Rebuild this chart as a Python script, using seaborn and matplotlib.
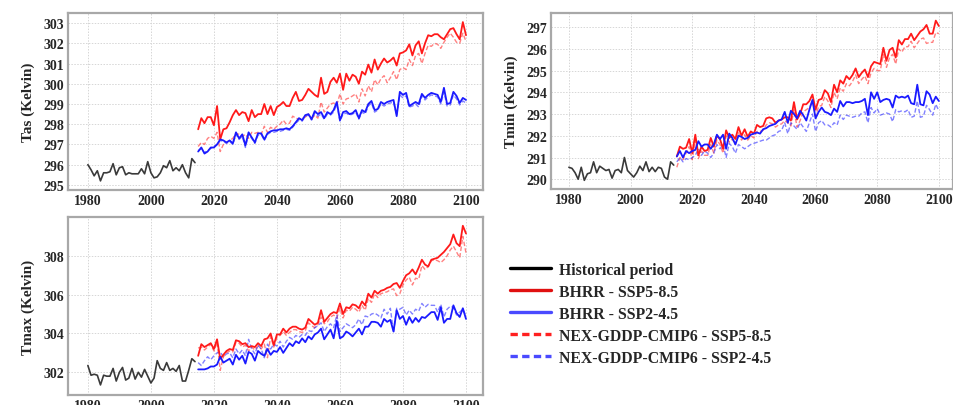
import numpy as np
import pandas as pd
import matplotlib
matplotlib.use("Agg")
import matplotlib.pyplot as plt
from matplotlib.lines import Line2D
import seaborn as sns

# ---------------------------------------------------------------- data
years_hist = list(range(1980, 2015))
years_fut = list(range(2015, 2101))

tas_hist = [296.0, 295.75, 295.45, 295.7, 295.2, 295.6, 295.6, 295.65, 296.05, 295.5,
            295.85, 295.9, 295.5, 295.6, 295.55, 295.55, 295.55, 295.8, 295.55, 296.15,
            295.6, 295.35, 295.4, 295.6, 295.95, 295.85, 296.2, 295.7, 295.85, 295.7,
            296.0, 295.6, 295.35, 296.3, 296.1]
tas_bhrr_585 = [297.75, 298.3, 298.05, 298.35, 298.35, 297.95, 298.9, 297.25, 297.75, 297.8,
                298.1, 298.45, 298.7, 298.45, 298.6, 298.55, 298.15, 298.7, 298.35, 298.5,
                298.5, 299.0, 298.5, 298.9, 298.45, 298.85, 298.95, 299.1, 298.9, 298.9,
                299.3, 299.6, 299.15, 299.2, 299.45, 299.75, 299.6, 299.45, 299.35, 300.3,
                299.5, 299.6, 300.1, 300.3, 300.05, 300.5, 299.7, 300.5, 300.15, 300.45,
                300.35, 300.0, 300.6, 300.45, 300.95, 300.55, 301.2, 300.7, 301.0, 301.25,
                301.05, 301.15, 301.3, 300.9, 301.5, 301.55, 301.65, 301.95, 301.4, 301.9,
                302.1, 301.5, 302.0, 302.4, 302.35, 302.45, 302.45, 302.3, 302.2, 302.45,
                302.7, 302.75, 302.45, 302.2, 303.05, 302.4]
tas_nex_585 = [296.9, 297.1, 297.0, 297.3, 297.4, 297.3, 297.6, 296.65, 297.0, 297.1,
               297.2, 297.3, 297.55, 297.5, 297.4, 297.5, 297.3, 297.6, 297.55, 297.6,
               297.5, 297.9, 297.6, 297.85, 297.75, 297.9, 298.0, 298.2, 298.0, 298.05,
               298.4, 298.3, 298.25, 298.3, 298.35, 298.5, 298.25, 298.45, 298.3, 299.1,
               298.6, 298.8, 299.0, 299.05, 298.95, 299.5, 299.0, 299.25, 299.3, 299.4,
               299.5, 299.1, 299.75, 299.4, 299.9, 299.6, 300.2, 299.95, 300.25, 300.4,
               300.05, 300.3, 300.6, 300.2, 300.7, 300.8, 300.7, 301.2, 300.9, 301.4,
               301.5, 301.0, 301.5, 301.9, 301.85, 302.0, 301.95, 301.75, 302.05, 302.3,
               302.5, 302.3, 302.05, 302.0, 302.5, 302.1]
tas_bhrr_245 = [296.65, 296.85, 296.55, 296.65, 296.85, 296.85, 297.0, 297.25, 297.2, 297.1,
                297.2, 297.05, 297.6, 297.3, 297.5, 296.95, 297.6, 297.35, 297.1, 297.55,
                297.55, 297.25, 297.55, 297.65, 297.7, 297.7, 297.75, 297.75, 297.8, 297.75,
                297.9, 298.1, 298.3, 298.2, 298.45, 298.5, 298.25, 298.65, 298.5, 298.6,
                298.3, 298.6, 298.5, 298.7, 299.1, 298.2, 298.6, 298.65, 298.5, 298.55,
                298.7, 298.3, 298.7, 298.6, 299.0, 299.15, 298.7, 298.75, 299.1, 299.0,
                299.1, 299.15, 299.2, 298.4, 299.6, 299.45, 299.55, 298.9, 299.0, 299.1,
                299.0, 299.5, 299.3, 299.45, 299.55, 299.5, 299.45, 299.1, 299.8, 299.0,
                299.05, 299.6, 299.4, 299.05, 299.3, 299.2]
tas_nex_245 = [296.7, 296.8, 296.6, 296.7, 296.8, 296.9, 297.0, 297.2, 297.15, 297.05,
               297.15, 297.0, 297.5, 297.25, 297.4, 296.85, 297.5, 297.3, 297.05, 297.45,
               297.5, 297.2, 297.5, 297.6, 297.6, 297.65, 297.65, 297.7, 297.75, 297.7,
               297.85, 298.05, 298.2, 298.15, 298.4, 298.45, 298.2, 298.55, 298.4, 298.5,
               298.25, 298.5, 298.45, 298.6, 299.0, 298.15, 298.5, 298.55, 298.45, 298.5,
               298.6, 298.25, 298.6, 298.5, 298.9, 299.05, 298.6, 298.7, 299.0, 298.9,
               299.0, 299.05, 299.1, 298.45, 299.45, 299.3, 299.4, 298.85, 298.9, 299.0,
               298.85, 299.4, 299.2, 299.35, 299.45, 299.4, 299.35, 299.0, 299.6, 298.9,
               298.95, 299.45, 299.25, 298.95, 299.15, 299.05]

tmin_hist = [290.55, 290.5, 290.3, 290.0, 290.55, 289.95, 290.25, 290.3, 290.8, 290.3,
             290.6, 290.5, 290.4, 290.45, 290.05, 290.4, 290.45, 290.3, 291.0, 290.4,
             290.25, 290.1, 290.3, 290.6, 290.4, 290.8, 290.35, 290.55, 290.35, 290.55,
             290.5, 290.1, 290.0, 290.8, 290.65]
tmin_bhrr_585 = [291.05, 291.5, 291.4, 291.45, 291.85, 291.2, 292.05, 291.1, 291.5, 291.3,
                 291.35, 291.9, 291.5, 292.0, 291.85, 291.4, 292.25, 291.9, 292.05, 291.85,
                 292.4, 292.0, 292.3, 291.95, 292.2, 292.1, 292.5, 292.4, 292.45, 292.8,
                 292.85, 292.8, 292.6, 292.7, 292.75, 292.85, 292.85, 292.7, 293.55, 292.75,
                 293.0, 293.45, 293.45, 293.6, 293.9, 293.2, 293.65, 293.7, 294.1, 293.95,
                 293.55, 294.35, 294.0, 294.55, 294.4, 294.75, 294.6, 294.8, 295.1, 294.7,
                 294.9, 295.05, 294.7, 295.2, 295.4, 295.35, 295.3, 296.05, 295.45, 295.95,
                 296.05, 295.6, 296.4, 296.2, 296.45, 296.45, 296.7, 296.4, 296.6, 296.8,
                 296.9, 297.1, 296.7, 296.7, 297.3, 297.05]
tmin_nex_585 = [290.55, 291.0, 290.9, 291.2, 291.5, 290.9, 291.8, 290.95, 291.3, 291.1,
                291.1, 291.6, 291.2, 291.8, 291.6, 291.2, 292.0, 291.7, 291.85, 291.6,
                292.15, 291.8, 292.05, 291.8, 292.0, 291.9, 292.2, 292.2, 292.25, 292.5,
                292.6, 292.55, 292.4, 292.5, 292.55, 292.7, 292.6, 292.45, 293.2, 292.4,
                292.7, 293.1, 293.2, 293.3, 293.6, 292.9, 293.35, 293.4, 293.8, 293.6,
                293.3, 294.0, 293.7, 294.2, 294.05, 294.4, 294.3, 294.5, 294.8, 294.4,
                294.6, 294.75, 294.4, 294.9, 295.1, 295.0, 295.0, 295.75, 295.15, 295.6,
                295.75, 295.3, 296.0, 295.85, 296.1, 296.1, 296.35, 296.05, 296.25, 296.45,
                296.5, 296.25, 296.3, 296.3, 296.75, 296.7]
tmin_bhrr_245 = [291.05, 291.3, 291.0, 291.3, 291.2, 291.3, 291.35, 291.75, 291.5, 291.6,
                 291.6, 291.4, 291.6, 292.05, 291.85, 292.05, 291.4, 292.1, 291.9, 291.6,
                 292.0, 291.95, 291.85, 291.9, 292.05, 292.1, 292.15, 292.1, 292.3, 292.35,
                 292.45, 292.5, 292.55, 292.7, 292.75, 293.1, 292.6, 293.15, 293.0, 292.8,
                 293.15, 292.95, 292.7, 293.2, 293.65, 292.8, 293.1, 293.3, 293.1, 293.05,
                 292.95, 293.25, 293.1, 293.6, 293.35, 293.55, 293.55, 293.5, 293.55, 293.55,
                 293.6, 293.7, 292.95, 294.0, 293.7, 294.0, 293.55, 293.65, 293.7, 293.65,
                 293.3, 293.85, 293.75, 293.8, 293.75, 293.85, 293.5, 293.45, 294.35, 293.45,
                 293.4, 294.05, 293.9, 293.5, 293.8, 293.6]
tmin_nex_245 = [290.8, 291.0, 290.8, 290.95, 290.9, 291.0, 291.1, 291.4, 291.1, 291.3,
                291.2, 291.0, 291.2, 291.6, 291.4, 291.6, 291.0, 291.65, 291.5, 291.2,
                291.6, 291.5, 291.4, 291.5, 291.6, 291.65, 291.7, 291.75, 291.8, 291.8,
                291.9, 292.0, 292.05, 292.2, 292.25, 292.6, 292.1, 292.6, 292.45, 292.3,
                292.6, 292.4, 292.2, 292.6, 293.0, 292.2, 292.6, 292.7, 292.5, 292.5,
                292.4, 292.6, 292.5, 292.95, 292.75, 292.95, 292.9, 292.85, 292.9, 292.9,
                293.05, 293.1, 292.6, 293.3, 293.05, 293.25, 292.95, 293.0, 293.05, 293.0,
                292.65, 293.2, 293.1, 293.15, 293.1, 293.2, 292.85, 292.9, 293.6, 292.85,
                292.9, 293.4, 293.2, 292.95, 293.45, 293.15]

tmax_hist = [302.35, 301.85, 301.9, 301.85, 301.35, 301.85, 301.8, 301.8, 302.2, 301.55,
             302.0, 302.25, 301.6, 301.7, 302.2, 301.65, 302.0, 301.75, 302.15, 301.8,
             301.45, 301.7, 302.6, 302.2, 302.1, 302.5, 302.1, 302.2, 302.05, 302.35,
             301.55, 301.55, 302.1, 302.7, 302.55]
tmax_bhrr_585 = [302.85, 303.45, 303.3, 303.4, 303.5, 303.2, 303.7, 302.7, 302.9, 303.1,
                 303.2, 303.15, 303.65, 303.6, 303.45, 303.5, 303.3, 303.35, 303.3, 303.5,
                 303.35, 303.7, 303.75, 304.0, 303.4, 303.95, 303.95, 304.25, 304.05, 304.25,
                 304.35, 304.35, 304.25, 304.2, 304.3, 304.75, 304.6, 304.45, 304.55, 305.2,
                 304.6, 304.8, 305.0, 305.1, 305.05, 305.55, 305.0, 305.35, 305.3, 305.5,
                 305.45, 305.3, 305.65, 305.45, 306.05, 305.85, 306.2, 306.05, 306.2, 306.25,
                 306.35, 306.4, 306.55, 306.6, 306.35, 306.7, 307.0, 307.1, 307.3, 307.05,
                 307.4, 307.8, 307.55, 307.45, 307.8, 307.85, 307.9, 308.05, 308.2, 308.4,
                 308.6, 309.1, 308.65, 308.5, 309.55, 309.15]
tmax_nex_585 = [303.25, 303.3, 303.15, 303.3, 303.45, 303.1, 303.55, 302.1, 302.8, 303.0,
                303.1, 303.05, 303.55, 303.5, 303.3, 303.4, 303.1, 303.3, 303.15, 303.35,
                303.2, 303.45, 302.75, 303.85, 303.3, 303.8, 303.9, 304.1, 303.9, 304.05,
                304.2, 304.2, 304.1, 304.05, 304.15, 304.55, 304.4, 304.3, 304.45, 304.85,
                304.5, 304.6, 304.85, 304.95, 304.8, 305.3, 304.8, 305.2, 305.15, 305.35,
                305.25, 305.1, 305.45, 305.2, 305.8, 305.6, 306.05, 305.85, 306.05, 306.1,
                306.15, 306.25, 306.3, 305.95, 306.05, 306.5, 306.75, 306.9, 306.5, 306.85,
                306.8, 307.5, 307.3, 307.45, 307.75, 307.8, 307.75, 307.65, 307.8, 308.0,
                308.3, 308.5, 308.2, 307.9, 309.0, 308.15]
tmax_bhrr_245 = [302.15, 302.15, 302.15, 302.2, 302.3, 302.3, 302.4, 302.8, 302.5, 302.6,
                 302.7, 302.4, 302.9, 302.65, 302.85, 302.45, 303.05, 302.95, 302.6, 303.1,
                 302.95, 302.85, 303.2, 302.9, 303.1, 303.05, 303.3, 303.0, 303.25, 303.5,
                 303.35, 303.6, 303.5, 303.75, 303.55, 303.85, 303.7, 303.95, 304.05, 304.25,
                 303.7, 303.95, 304.2, 303.75, 304.65, 303.75, 303.85, 304.1, 304.0, 303.85,
                 304.05, 304.25, 303.95, 304.35, 304.35, 304.6, 304.6, 304.55, 304.35, 304.75,
                 304.6, 304.7, 304.1, 305.2, 304.75, 304.9, 304.45, 304.85, 304.55, 304.8,
                 304.6, 304.85, 304.8, 304.95, 305.1, 305.1, 304.7, 305.35, 304.55, 304.75,
                 304.75, 305.45, 305.05, 304.85, 305.3, 304.75]
tmax_nex_245 = [302.5, 302.35, 302.6, 302.8, 302.65, 302.85, 303.0, 303.05, 302.8, 302.95,
                303.0, 302.75, 303.2, 302.95, 303.15, 302.85, 303.7, 303.2, 302.95, 303.4,
                303.2, 302.75, 303.45, 303.2, 303.45, 303.35, 303.6, 303.3, 303.6, 303.8,
                303.7, 303.9, 303.8, 303.95, 303.9, 304.15, 304.1, 304.3, 304.4, 304.55,
                304.1, 304.35, 304.5, 304.3, 304.95, 304.1, 304.3, 304.5, 304.4, 304.3,
                304.45, 304.75, 304.45, 304.9, 304.85, 305.0, 305.05, 304.95, 304.8, 305.25,
                305.0, 305.3, 304.05, 305.3, 305.25, 305.35, 304.95, 305.2, 305.0, 305.25,
                305.15, 305.55, 305.35, 305.5, 305.45, 305.45, 305.1, 305.5, 304.85, 305.25,
                305.4, 305.35, 304.95, 305.1, 305.25, 304.9]

x_ticks = [1980, 2000, 2020, 2040, 2060, 2080, 2100]
legend_labels = ["Historical period", "BHRR - SSP5-8.5", "BHRR - SSP2-4.5",
                 "NEX-GDDP-CMIP6 - SSP5-8.5", "NEX-GDDP-CMIP6 - SSP2-4.5"]

# ---------------------------------------------------------------- style
sns.set_style("whitegrid")
plt.rcParams["font.family"] = ["Liberation Serif", "DejaVu Serif"]
plt.rcParams["font.weight"] = "bold"

C_HIST = "#3a3a3a"
C_RED = "#ff1a1a"
C_BLUE = "#1a1aff"
DASH = (0, (3.2, 1.6))

fig = plt.figure(figsize=(9.54, 4.06), dpi=100)
fig.patch.set_facecolor("white")

panels = [
    dict(rect=[0.0713, 0.5296, 0.435, 0.436], label="Tas (Kelvin)",
         hist=tas_hist, b585=tas_bhrr_585, b245=tas_bhrr_245,
         n585=tas_nex_585, n245=tas_nex_245,
         ylim=(294.75, 303.5), yticks=[295, 296, 297, 298, 299, 300, 301, 302, 303],
         xlim=(1973.7, 2105.4)),
    dict(rect=[0.5776, 0.532, 0.4214, 0.4335], label="Tmin (Kelvin)",
         hist=tmin_hist, b585=tmin_bhrr_585, b245=tmin_bhrr_245,
         n585=tmin_nex_585, n245=tmin_nex_245,
         ylim=(289.55, 297.65), yticks=[290, 291, 292, 293, 294, 295, 296, 297],
         xlim=(1974.2, 2104.6)),
    dict(rect=[0.0713, 0.0246, 0.435, 0.4384], label="Tmax (Kelvin)",
         hist=tmax_hist, b585=tmax_bhrr_585, b245=tmax_bhrr_245,
         n585=tmax_nex_585, n245=tmax_nex_245,
         ylim=(300.83, 310.0), yticks=[302, 304, 306, 308],
         xlim=(1973.7, 2105.4)),
]

for p in panels:
    ax = fig.add_axes(p["rect"])
    hist_df = pd.DataFrame({"year": years_hist, "value": p["hist"]})
    fut_df = pd.DataFrame({"year": years_fut,
                           "b585": p["b585"], "b245": p["b245"],
                           "n585": p["n585"], "n245": p["n245"]})

    sns.lineplot(data=hist_df, x="year", y="value", ax=ax, color=C_HIST, lw=1.2)
    sns.lineplot(data=fut_df, x="year", y="n585", ax=ax, color=C_RED, lw=1.0,
                 linestyle=DASH, alpha=0.55)
    sns.lineplot(data=fut_df, x="year", y="n245", ax=ax, color=C_BLUE, lw=1.0,
                 linestyle=DASH, alpha=0.55)
    sns.lineplot(data=fut_df, x="year", y="b585", ax=ax, color=C_RED, lw=1.3)
    sns.lineplot(data=fut_df, x="year", y="b245", ax=ax, color=C_BLUE, lw=1.3)

    ax.set_xlim(*p["xlim"])
    ax.set_ylim(*p["ylim"])
    ax.set_xticks(x_ticks)
    ax.set_yticks(p["yticks"])
    ax.set_xlabel("")
    ax.set_ylabel(p["label"], fontsize=11, fontweight="bold", labelpad=6)
    ax.tick_params(axis="both", length=0, labelsize=10, pad=3)
    for lab in ax.get_xticklabels() + ax.get_yticklabels():
        lab.set_fontweight("bold")
    ax.grid(True, color="#d6d6d6", linestyle=(0, (1.5, 1.5)), linewidth=0.7)
    for s in ax.spines.values():
        s.set_visible(True)
        s.set_color("#a8a8a8")
        s.set_linewidth(1.6)
    ax.set_facecolor("white")

handles = [
    Line2D([], [], color="black", lw=2.4),
    Line2D([], [], color="#e01010", lw=2.4),
    Line2D([], [], color="#4a4aff", lw=2.4),
    Line2D([], [], color="#ff2020", lw=2.4, linestyle=(0, (2.2, 1.3))),
    Line2D([], [], color="#4a4aff", lw=2.4, linestyle=(0, (2.2, 1.3))),
]
fig.legend(handles, legend_labels, loc="upper left",
           bbox_to_anchor=(0.5346, 0.353), frameon=False,
           prop={"family": "Liberation Serif", "weight": "bold", "size": 11.3},
           handlelength=2.6, handletextpad=0.55, labelspacing=0.38,
           borderpad=0, borderaxespad=0)

fig.savefig("out.png", dpi=100, facecolor="white")
